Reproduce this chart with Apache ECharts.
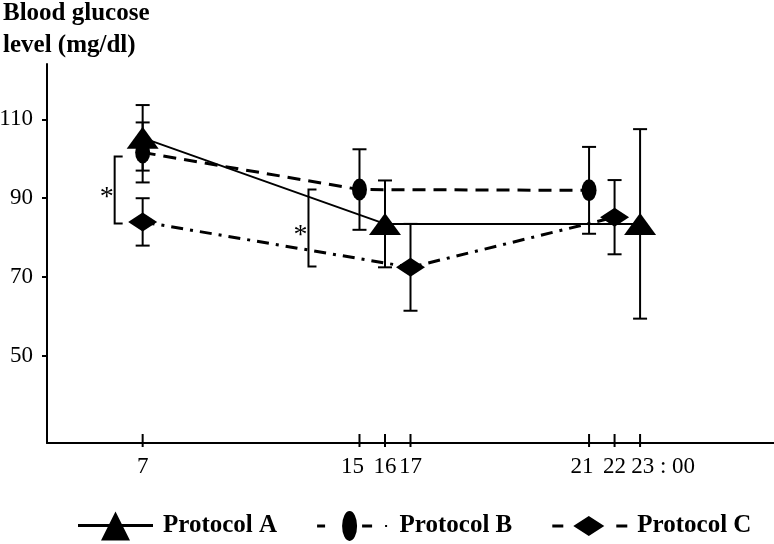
<!DOCTYPE html>
<html><head><meta charset="utf-8">
<script src="https://cdn.jsdelivr.net/npm/echarts@6/dist/echarts.min.js"></script>
<style>html,body{margin:0;padding:0;background:#fff}#c{width:774px;height:544px}</style>
</head><body><div id="c"></div>
<script>
// x-axis categories (hours of day; blank entries are spacer slots of the drawn axis)
const hourLabels = [
  '', '', '', '', '', '', '', '7',
  '', '', '', '', '', '', '', '', '', '', '', '', '', '', '', '',
  '15', '', '16', '', '17',
  '', '', '', '', '', '', '', '', '', '', '', '', '',
  '21', '', '22', '', '23 : 00',
  '', '', '', '', '', '', '', '', '', ''
];
const yTicks = [50, 70, 90, 110];

// Blood glucose (mg/dl): [time, mean]
const protocolA = [['7', 105.3], ['16', 83.5], ['23 : 00', 83.5]];
const protocolA_sd = [8.3, 11, 24];
const protocolB = [['7', 101.6], ['15', 92.2], ['21', 92]];
const protocolB_sd = [7.6, 10.2, 11];
const protocolC = [['7', 84], ['17', 72.5], ['22', 85.2]];
const protocolC_sd = [6, 11, 9.4];

// significance brackets: [time, upper value, lower value]
const brackets = [['7', 100.6, 83.6], ['15', 92.2, 72.7]];
const bracketDx = [-28, -51]; // pixel offset of bracket from its time tick (style)

const SERIF = "'Liberation Serif', 'Times New Roman', serif";
const Y_MIN = 28, Y_MAX = 124;

function errItems(pts, sd) { return pts.map((p, i) => [p[0], p[1], sd[i]]); }

function errorRender(params, api) {
  const x = api.value(0), v = api.value(1), sd = api.value(2);
  const hi = api.coord([x, v + sd]), lo = api.coord([x, v - sd]);
  const w = 7, st = { stroke: '#000', lineWidth: 2 };
  return { type: 'group', children: [
    { type: 'line', shape: { x1: hi[0], y1: hi[1], x2: lo[0], y2: lo[1] }, style: st },
    { type: 'line', shape: { x1: hi[0] - w, y1: hi[1], x2: hi[0] + w, y2: hi[1] }, style: st },
    { type: 'line', shape: { x1: lo[0] - w, y1: lo[1], x2: lo[0] + w, y2: lo[1] }, style: st }
  ]};
}

function bracketRender(params, api) {
  const x = api.value(0);
  const top = api.coord([x, api.value(1)]), bot = api.coord([x, api.value(2)]);
  const vx = top[0] + bracketDx[params.dataIndex];
  const mid = (top[1] + bot[1]) / 2;
  return { type: 'group', children: [
    { type: 'polyline', shape: { points: [[vx + 8, top[1]], [vx, top[1]], [vx, bot[1]], [vx + 8, bot[1]]] }, style: { stroke: '#000', lineWidth: 2, fill: null } },
    { type: 'text', style: { text: '*', x: vx - 8, y: mid + 8, fill: '#000', fontSize: 28, fontFamily: SERIF, align: 'center', verticalAlign: 'middle' } }
  ]};
}

// tick marks at the labelled hours, drawn on the x axis
const tickCats = hourLabels.filter(v => v !== '').map(v => [v, Y_MIN]);
function tickRender(params, api) {
  const p = api.coord([api.value(0), api.value(1)]);
  return { type: 'line', shape: { x1: p[0], y1: p[1] - 9, x2: p[0], y2: p[1] + 4 }, style: { stroke: '#000', lineWidth: 2 } };
}

// label styling: slight nudges so the tight clusters read like the original
function xLabelFormatter(v) {
  if (v.indexOf(':') > 0) return '{p|}{t|' + v + '}';
  if (v === '15' || v === '21') return '{t|' + v + '}{q|}';
  return v;
}

const ellipse = 'path://M0,11A7.5,11 0 1,0 15,11A7.5,11 0 1,0 0,11Z';

const chart = echarts.init(document.getElementById('c'), null, { renderer: 'canvas' });
chart.setOption({
  animation: false,
  backgroundColor: '#fff',
  title: {
    text: 'Blood glucose\nlevel (mg/dl)',
    left: 3, top: -2, padding: 0,
    textStyle: { fontFamily: SERIF, fontWeight: 'bold', fontSize: 25, lineHeight: 32, color: '#000' }
  },
  legend: {
    left: 73, top: 506, itemWidth: 75, itemHeight: 30, itemGap: 40,
    textStyle: { fontFamily: SERIF, fontWeight: 'bold', fontSize: 25, color: '#000', padding: [0, 0, 0, 5] },
    data: [
      { name: 'Protocol A', icon: 'path://M0,13.5H75V16.5H0Z M23,30L37.5,1L52,30Z' },
      { name: 'Protocol B', icon: 'path://M2,13.5H10V16.5H2Z M27,15A7.5,15 0 1,0 42,15A7.5,15 0 1,0 27,15Z M47,13.5H57V16.5H47Z M70,14H72V16H70Z' },
      { name: 'Protocol C', icon: 'path://M0,13.5H11V16.5H0Z M21,15L36.5,5L52,15L36.5,25Z M64,13.5H75V16.5H64Z' }
    ]
  },
  grid: { left: 47, right: 0, top: 64, bottom: 101, containLabel: false, outerBoundsMode: 'none' },
  xAxis: {
    type: 'category', data: hourLabels, boundaryGap: true,
    axisLine: { lineStyle: { color: '#000', width: 2 } },
    axisTick: { show: false },
    axisLabel: {
      interval: 0, color: '#000', fontFamily: SERIF, fontSize: 23, margin: 12,
      formatter: xLabelFormatter,
      rich: { p: { width: 46 }, q: { width: 14 }, t: { fontFamily: SERIF, fontSize: 23, color: '#000' } }
    },
    splitLine: { show: false }
  },
  yAxis: {
    type: 'value', min: Y_MIN, max: Y_MAX,
    axisLine: { show: true, lineStyle: { color: '#000', width: 2 } },
    axisTick: { show: true, customValues: yTicks, length: 5, lineStyle: { color: '#000', width: 2 } },
    axisLabel: { customValues: yTicks, color: '#000', fontFamily: SERIF, fontSize: 23, margin: 14 },
    splitLine: { show: false }
  },
  series: [
    { type: 'custom', name: 'ticks', data: tickCats, renderItem: tickRender, encode: { x: 0, y: 1 }, z: 3, silent: true, clip: false },
    { type: 'custom', name: 'errA', data: errItems(protocolA, protocolA_sd), renderItem: errorRender, encode: { x: 0, y: 1 }, z: 2, silent: true },
    { type: 'custom', name: 'errB', data: errItems(protocolB, protocolB_sd), renderItem: errorRender, encode: { x: 0, y: 1 }, z: 2, silent: true },
    { type: 'custom', name: 'errC', data: errItems(protocolC, protocolC_sd), renderItem: errorRender, encode: { x: 0, y: 1 }, z: 2, silent: true },
    { type: 'custom', name: 'sig', data: brackets, renderItem: bracketRender, encode: { x: 0, y: 1 }, z: 2, silent: true },
    { name: 'Protocol B', type: 'line', data: protocolB, symbol: ellipse, symbolKeepAspect: false, symbolSize: [15, 22],
      lineStyle: { color: '#000', width: 3, type: [13, 8] }, itemStyle: { color: '#000' }, z: 4 },
    { name: 'Protocol C', type: 'line', data: protocolC, symbol: 'diamond', symbolSize: [29, 19],
      lineStyle: { color: '#000', width: 3, type: [12, 7, 3, 7] }, itemStyle: { color: '#000' }, z: 4 },
    { name: 'Protocol A', type: 'line', data: protocolA, symbol: 'triangle', symbolSize: [32, 22],
      lineStyle: { color: '#000', width: 2 }, itemStyle: { color: '#000' }, z: 5 }
  ]
});
</script></body></html>
